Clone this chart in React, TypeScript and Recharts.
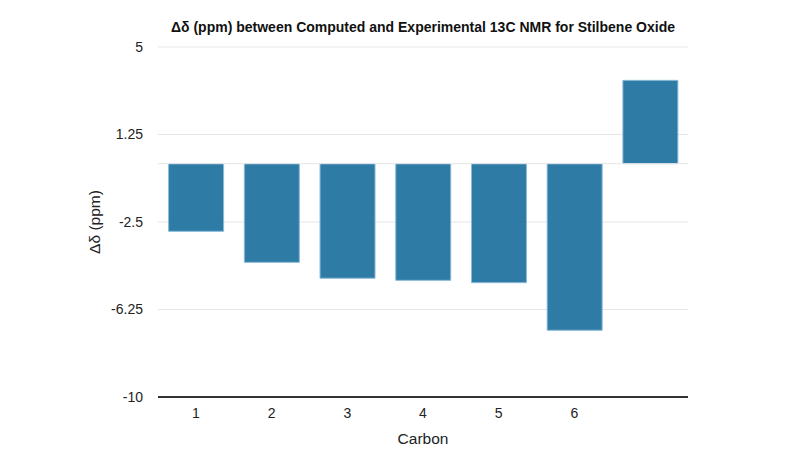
import React from 'react';
import { BarChart, Bar, XAxis, YAxis, CartesianGrid, ReferenceLine } from 'recharts';

const categories = ['1', '2', '3', '4', '5', '6', ''];
const deltaValues = [-2.9, -4.23, -4.91, -5.0, -5.1, -7.14, 3.57];
const yTicks = [5, 1.25, -2.5, -6.25, -10];

const data = categories.map((c, i) => ({ carbon: c, delta: deltaValues[i] }));

const FONT = '"Liberation Sans", Arial, Helvetica, sans-serif';

export default function App() {
  return (
    <div style={{ position: 'absolute', left: 0, top: 0, width: 800, height: 467, background: '#fff', fontFamily: FONT }}>
      <div
        style={{
          position: 'absolute',
          top: 19,
          left: 158,
          width: 530,
          textAlign: 'center',
          fontWeight: 'bold',
          fontSize: 14,
          lineHeight: '16px',
          color: '#111',
        }}
      >
        Δδ (ppm) between Computed and Experimental 13C NMR for Stilbene Oxide
      </div>
      <BarChart
        width={800}
        height={467}
        data={data}
        margin={{ top: 47, right: 112, bottom: 0, left: 0 }}
        barCategoryGap="14%"
      >
        <CartesianGrid vertical={false} stroke="#e6e6e6" strokeWidth={1} />
        <ReferenceLine y={0} stroke="#e6e6e6" strokeWidth={1} />
        <XAxis
          dataKey="carbon"
          height={70}
          tickLine={false}
          tickSize={6}
          tickMargin={5}
          axisLine={{ stroke: '#333', strokeWidth: 2 }}
          tick={{ fill: '#222', fontSize: 14, fontFamily: FONT }}
          label={{ value: 'Carbon', position: 'insideBottom', offset: 23, fill: '#222', fontSize: 15.5, fontFamily: FONT }}
        />
        <YAxis
          width={158}
          domain={[-10, 5]}
          ticks={yTicks}
          interval={0}
          axisLine={false}
          tickLine={false}
          tickSize={6}
          tickMargin={9}
          tick={{ fill: '#222', fontSize: 14, fontFamily: FONT }}
          label={{
            value: 'Δδ (ppm)',
            angle: -90,
            position: 'insideLeft',
            offset: 94,
            fill: '#222',
            fontSize: 15.5,
            fontFamily: FONT,
            style: { textAnchor: 'middle' },
          }}
        />
        <Bar
          dataKey="delta"
          fill="#176d9c"
          fillOpacity={0.9}
          stroke="#8bbbd9"
          strokeWidth={1}
          isAnimationActive={false}
        />
      </BarChart>
    </div>
  );
}
